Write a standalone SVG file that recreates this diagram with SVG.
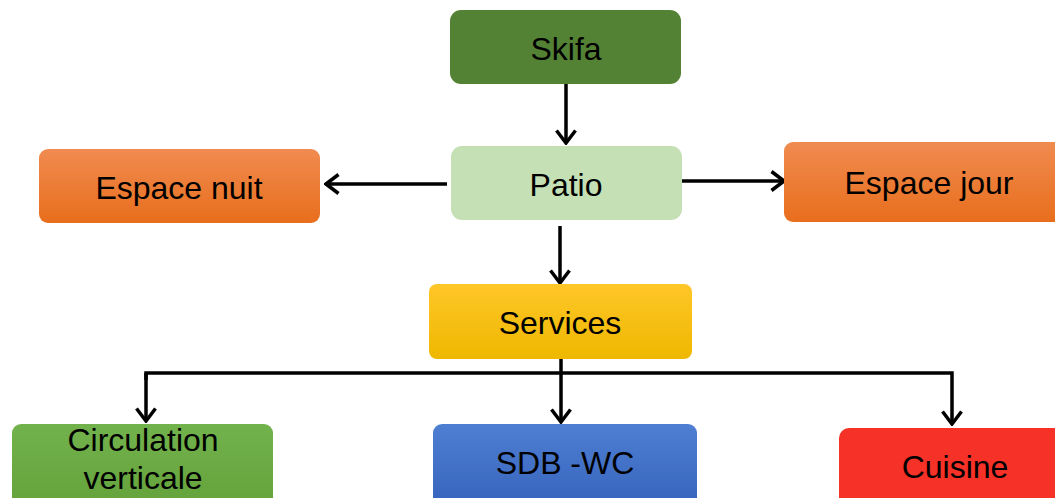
<svg xmlns="http://www.w3.org/2000/svg" width="1055" height="498" viewBox="0 0 1055 498">
<defs>
<style>
.t{font-family:"Liberation Sans",Arial,sans-serif;font-size:32px;fill:#000;text-anchor:middle}
.c{fill:none;stroke:#000;stroke-width:3.5}
</style>
<marker id="ah" viewBox="0 0 16 22" refX="14" refY="11" markerWidth="16" markerHeight="22" markerUnits="userSpaceOnUse" orient="auto">
<path d="M1.5,1.5 L14,11 L1.5,20.5" fill="none" stroke="#000" stroke-width="3.5"/>
</marker>
<linearGradient id="gO" x1="0" y1="0" x2="0" y2="1"><stop offset="0" stop-color="#f08b50"/><stop offset="1" stop-color="#e86e1c"/></linearGradient>
<linearGradient id="gY" x1="0" y1="0" x2="0" y2="1"><stop offset="0" stop-color="#ffc628"/><stop offset="1" stop-color="#eeb800"/></linearGradient>
<linearGradient id="gG" x1="0" y1="0" x2="0" y2="1"><stop offset="0" stop-color="#72b24c"/><stop offset="1" stop-color="#64a23b"/></linearGradient>
<linearGradient id="gB" x1="0" y1="0" x2="0" y2="1"><stop offset="0" stop-color="#4e7fd2"/><stop offset="1" stop-color="#3663bc"/></linearGradient>
</defs>
<rect width="1055" height="498" fill="#fff"/>
<g id="connectors">
<path class="c" d="M566,84 V143" marker-end="url(#ah)"/>
<path class="c" d="M447,184 H326" marker-end="url(#ah)"/>
<path class="c" d="M682,181 H784" marker-end="url(#ah)"/>
<path class="c" d="M560,226 V283" marker-end="url(#ah)"/>
<path class="c" d="M561,359 V422" marker-end="url(#ah)"/>
<path class="c" d="M146,380 V373 H952 V424" marker-end="url(#ah)"/>
<path class="c" d="M146,373 V421" marker-end="url(#ah)"/>
</g>
<g id="skifa"><rect x="450" y="10" width="231" height="74" rx="11" fill="#548235"/><text class="t" x="566" y="60">Skifa</text></g>
<g id="patio"><rect x="451" y="146" width="231" height="74" rx="11" fill="#c5e0b4"/><text class="t" x="566" y="196">Patio</text></g>
<g id="espace-nuit"><rect x="39" y="149" width="281" height="74" rx="9" fill="url(#gO)"/><text class="t" x="179" y="199">Espace nuit</text></g>
<g id="espace-jour"><rect x="784" y="142" width="285" height="80" rx="9" fill="url(#gO)"/><text class="t" x="929" y="194">Espace jour</text></g>
<g id="services"><rect x="429" y="284" width="263" height="75" rx="8" fill="url(#gY)"/><text class="t" x="560" y="334">Services</text></g>
<g id="circulation"><rect x="12" y="424" width="261" height="84" rx="9" fill="url(#gG)"/><text class="t" x="143" y="451">Circulation</text><text class="t" x="143" y="489">verticale</text></g>
<g id="sdb-wc"><rect x="433" y="424" width="264" height="84" rx="9" fill="url(#gB)"/><text class="t" x="565" y="474">SDB -WC</text></g>
<g id="cuisine"><rect x="839" y="428" width="230" height="80" rx="10" fill="#f53128"/><text class="t" x="955" y="478">Cuisine</text></g>
</svg>
